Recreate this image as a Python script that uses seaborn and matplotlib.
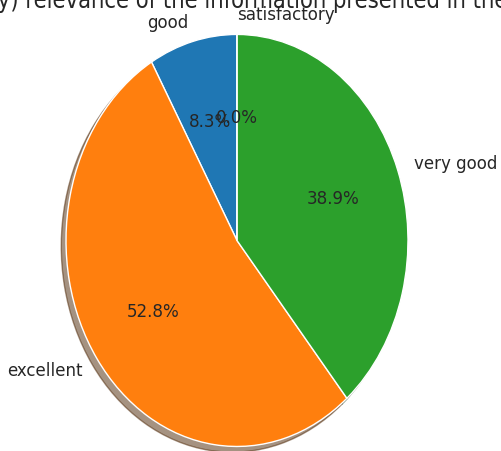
import matplotlib
matplotlib.use("Agg")
import matplotlib.pyplot as plt
import seaborn as sns

labels = ['good', 'excellent', 'very good', 'satisfactory']
counts = [3, 19, 14, 0]
title = "Accuracy (validity) relevance of the information presented in the course material"

sns.set_style("white")
plt.rcParams['font.family'] = ['DejaVu Sans']
plt.rcParams['font.stretch'] = 'condensed'

colors = sns.color_palette('tab10')[:len(labels)]

fig = plt.figure(figsize=(5.01, 4.52), dpi=100)
ax = fig.add_axes([0, 0, 1, 1])
wedges, texts, autotexts = ax.pie(counts, labels=labels, colors=colors,
                                  autopct='%1.1f%%', startangle=90,
                                  shadow=True, textprops={'fontsize': 13.3})
# the empty wedge sits at the top, its label goes to the right
texts[3].set_ha('left')

ax.set_aspect('auto')
ax.set_xlim(-1.386, 1.544)
ax.set_ylim(-1.022, 1.172)
ax.axis('off')

fig.text(0.5, 1 - 8 / 452, title, ha='center', va='baseline', fontsize=17)

fig.savefig('out.png', dpi=100)
